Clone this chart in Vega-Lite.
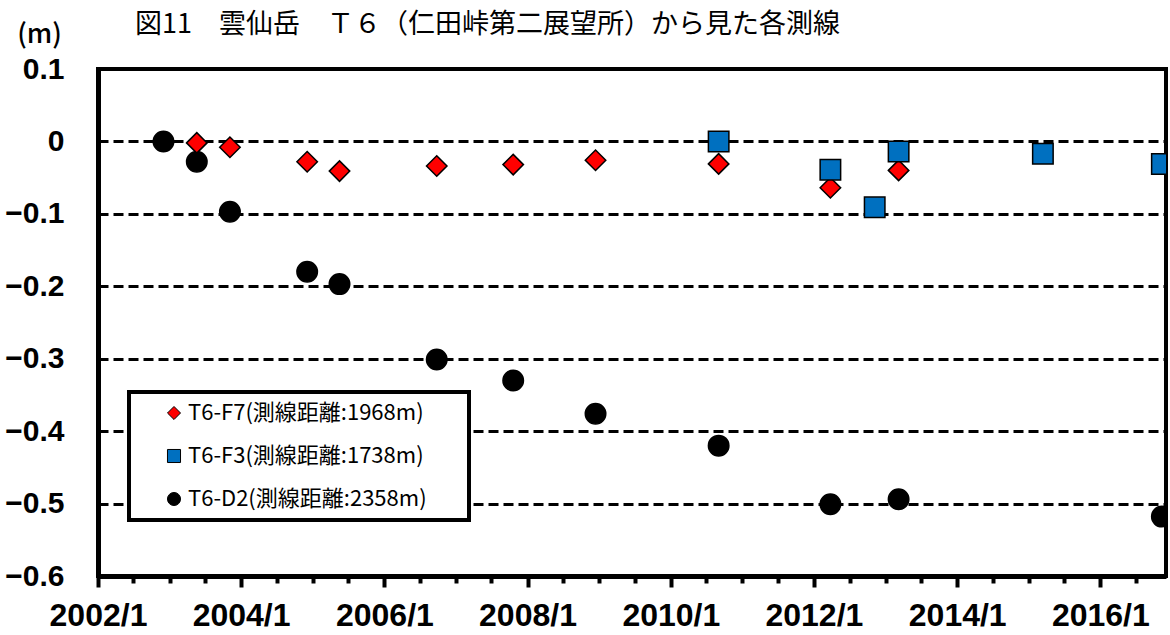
{
  "$schema": "https://vega.github.io/schema/vega-lite/v6.json",
  "width": 1068,
  "height": 507,
  "autosize": {"type": "none"},
  "padding": {"left": 98, "top": 69, "right": 4, "bottom": 59},
  "background": "white",
  "title": {
    "text": "図11　雲仙岳　Ｔ６（仁田峠第二展望所）から見た各測線",
    "anchor": "start",
    "frame": "group",
    "dx": 37,
    "offset": -19,
    "font": "Noto Sans CJK JP",
    "fontSize": 27,
    "fontWeight": "normal",
    "color": "black"
  },
  "config": {
    "view": {"stroke": "black", "strokeWidth": 4},
    "legend": {"strokeWidth": 4}
  },
  "data": {
    "format": {"parse": {"date": "utc:'%Y-%m-%d'"}},
    "values": [
      {"date": "2002-12-01", "series": "T6-D2(測線距離:2358m)", "value": 0.0},
      {"date": "2003-05-20", "series": "T6-D2(測線距離:2358m)", "value": -0.028},
      {"date": "2003-11-05", "series": "T6-D2(測線距離:2358m)", "value": -0.097},
      {"date": "2004-12-03", "series": "T6-D2(測線距離:2358m)", "value": -0.180},
      {"date": "2005-05-17", "series": "T6-D2(測線距離:2358m)", "value": -0.197},
      {"date": "2006-09-25", "series": "T6-D2(測線距離:2358m)", "value": -0.301},
      {"date": "2007-10-20", "series": "T6-D2(測線距離:2358m)", "value": -0.330},
      {"date": "2008-12-13", "series": "T6-D2(測線距離:2358m)", "value": -0.376},
      {"date": "2010-09-02", "series": "T6-D2(測線距離:2358m)", "value": -0.420},
      {"date": "2012-03-25", "series": "T6-D2(測線距離:2358m)", "value": -0.501},
      {"date": "2013-03-08", "series": "T6-D2(測線距離:2358m)", "value": -0.494},
      {"date": "2016-11-10", "series": "T6-D2(測線距離:2358m)", "value": -0.518},
      {"date": "2003-05-20", "series": "T6-F7(測線距離:1968m)", "value": -0.002},
      {"date": "2003-11-05", "series": "T6-F7(測線距離:1968m)", "value": -0.008},
      {"date": "2004-12-03", "series": "T6-F7(測線距離:1968m)", "value": -0.028},
      {"date": "2005-05-17", "series": "T6-F7(測線距離:1968m)", "value": -0.041},
      {"date": "2006-09-25", "series": "T6-F7(測線距離:1968m)", "value": -0.034},
      {"date": "2007-10-20", "series": "T6-F7(測線距離:1968m)", "value": -0.032},
      {"date": "2008-12-13", "series": "T6-F7(測線距離:1968m)", "value": -0.026},
      {"date": "2010-09-02", "series": "T6-F7(測線距離:1968m)", "value": -0.031},
      {"date": "2012-03-25", "series": "T6-F7(測線距離:1968m)", "value": -0.064},
      {"date": "2013-03-08", "series": "T6-F7(測線距離:1968m)", "value": -0.040},
      {"date": "2010-09-02", "series": "T6-F3(測線距離:1738m)", "value": 0.0},
      {"date": "2012-03-25", "series": "T6-F3(測線距離:1738m)", "value": -0.039},
      {"date": "2012-11-06", "series": "T6-F3(測線距離:1738m)", "value": -0.091},
      {"date": "2013-03-08", "series": "T6-F3(測線距離:1738m)", "value": -0.014},
      {"date": "2015-03-14", "series": "T6-F3(測線距離:1738m)", "value": -0.017},
      {"date": "2016-11-10", "series": "T6-F3(測線距離:1738m)", "value": -0.031}
    ]
  },
  "mark": {"type": "point", "filled": true, "size": 420, "stroke": "black", "strokeWidth": 1.5, "opacity": 1, "clip": true},
  "encoding": {
    "x": {
      "field": "date",
      "type": "temporal",
      "scale": {
        "type": "utc",
        "domain": [
          {"year": 2002, "month": 1, "date": 1, "utc": true},
          {"year": 2016, "month": 12, "date": 1, "utc": true}
        ]
      },
      "axis": {
        "title": null,
        "grid": false,
        "domain": true,
        "domainColor": "black",
        "domainWidth": 5,
        "ticks": true,
        "tickColor": "black",
        "tickWidth": 4,
        "tickSize": {"condition": {"test": "utcmonth(datum.value) == 0 && utcyear(datum.value) % 2 == 0", "value": 11}, "value": 7},
        "values": [
          {"year": 2002, "month": 1, "date": 1, "utc": true},
          {"year": 2002, "month": 7, "date": 1, "utc": true},
          {"year": 2003, "month": 1, "date": 1, "utc": true},
          {"year": 2003, "month": 7, "date": 1, "utc": true},
          {"year": 2004, "month": 1, "date": 1, "utc": true},
          {"year": 2004, "month": 7, "date": 1, "utc": true},
          {"year": 2005, "month": 1, "date": 1, "utc": true},
          {"year": 2005, "month": 7, "date": 1, "utc": true},
          {"year": 2006, "month": 1, "date": 1, "utc": true},
          {"year": 2006, "month": 7, "date": 1, "utc": true},
          {"year": 2007, "month": 1, "date": 1, "utc": true},
          {"year": 2007, "month": 7, "date": 1, "utc": true},
          {"year": 2008, "month": 1, "date": 1, "utc": true},
          {"year": 2008, "month": 7, "date": 1, "utc": true},
          {"year": 2009, "month": 1, "date": 1, "utc": true},
          {"year": 2009, "month": 7, "date": 1, "utc": true},
          {"year": 2010, "month": 1, "date": 1, "utc": true},
          {"year": 2010, "month": 7, "date": 1, "utc": true},
          {"year": 2011, "month": 1, "date": 1, "utc": true},
          {"year": 2011, "month": 7, "date": 1, "utc": true},
          {"year": 2012, "month": 1, "date": 1, "utc": true},
          {"year": 2012, "month": 7, "date": 1, "utc": true},
          {"year": 2013, "month": 1, "date": 1, "utc": true},
          {"year": 2013, "month": 7, "date": 1, "utc": true},
          {"year": 2014, "month": 1, "date": 1, "utc": true},
          {"year": 2014, "month": 7, "date": 1, "utc": true},
          {"year": 2015, "month": 1, "date": 1, "utc": true},
          {"year": 2015, "month": 7, "date": 1, "utc": true},
          {"year": 2016, "month": 1, "date": 1, "utc": true},
          {"year": 2016, "month": 7, "date": 1, "utc": true}
        ],
        "labelExpr": "utcmonth(datum.value) == 0 && utcyear(datum.value) % 2 == 0 ? utcFormat(datum.value, '%Y/%-m') : ''",
        "labelOverlap": false,
        "labelFlush": false,
        "labelBound": false,
        "labelFont": "Liberation Sans",
        "labelFontWeight": "bold",
        "labelFontSize": 32,
        "labelColor": "black",
        "labelPadding": 13
      }
    },
    "y": {
      "field": "value",
      "type": "quantitative",
      "scale": {"domain": [-0.6, 0.1], "nice": false, "zero": false},
      "axis": {
        "values": [0.1, 0, -0.1, -0.2, -0.3, -0.4, -0.5, -0.6],
        "format": "~g",
        "grid": true,
        "gridColor": "black",
        "gridWidth": 3,
        "gridDash": [10, 5],
        "gridOpacity": 1,
        "ticks": false,
        "domain": true,
        "domainColor": "black",
        "domainWidth": 5,
        "labelFont": "Liberation Sans",
        "labelFontWeight": "bold",
        "labelFontSize": 30,
        "labelColor": "black",
        "labelPadding": 34,
        "labelOverlap": false,
        "labelBaseline": "middle",
        "title": "(m)",
        "titleAngle": 0,
        "titleX": -59,
        "titleY": -35,
        "titleAlign": "center",
        "titleBaseline": "middle",
        "titleFont": "Noto Sans CJK JP",
        "titleFontSize": 27,
        "titleFontWeight": 500,
        "titleColor": "black"
      }
    },
    "shape": {
      "field": "series",
      "type": "nominal",
      "scale": {
        "domain": ["T6-F7(測線距離:1968m)", "T6-F3(測線距離:1738m)", "T6-D2(測線距離:2358m)"],
        "range": ["diamond", "square", "circle"]
      },
      "legend": {
        "title": null,
        "orient": "none",
        "legendX": 31,
        "legendY": 323,
        "fillColor": "white",
        "strokeColor": "black",
        "padding": 10,
        "rowPadding": 21,
        "symbolOffset": 24,
        "symbolSize": 170,
        "symbolStrokeColor": "black",
        "symbolStrokeWidth": 1,
        "labelFont": "Noto Sans CJK JP",
        "labelFontSize": 22,
        "labelColor": "black",
        "labelLimit": 0,
        "labelOffset": 3,
        "labelExpr": "datum.label + '　  \u200b'"
      }
    },
    "color": {
      "field": "series",
      "type": "nominal",
      "scale": {
        "domain": ["T6-F7(測線距離:1968m)", "T6-F3(測線距離:1738m)", "T6-D2(測線距離:2358m)"],
        "range": ["#FF0000", "#0070C0", "#000000"]
      },
      "legend": {
        "title": null,
        "orient": "none",
        "legendX": 31,
        "legendY": 323,
        "fillColor": "white",
        "strokeColor": "black",
        "padding": 10,
        "rowPadding": 21,
        "symbolOffset": 24,
        "symbolSize": 170,
        "symbolStrokeColor": "black",
        "symbolStrokeWidth": 1,
        "labelFont": "Noto Sans CJK JP",
        "labelFontSize": 22,
        "labelColor": "black",
        "labelLimit": 0,
        "labelOffset": 3,
        "labelExpr": "datum.label + '　  \u200b'"
      }
    }
  }
}
